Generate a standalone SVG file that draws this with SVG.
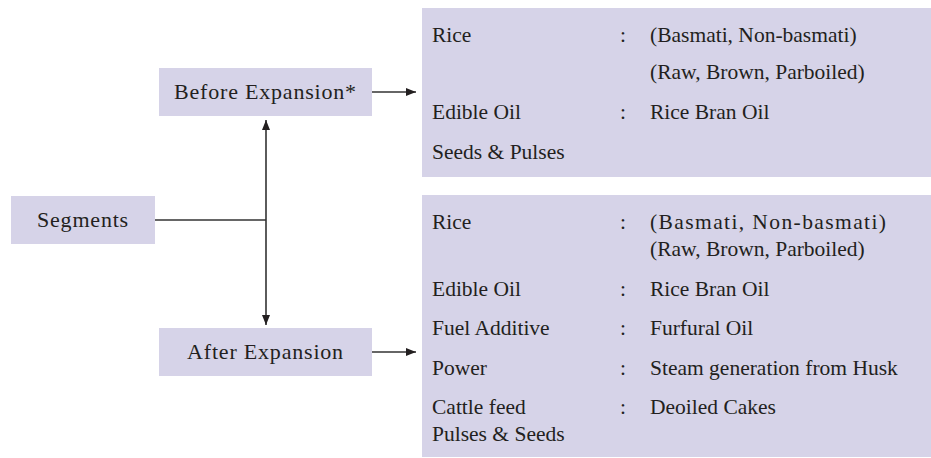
<svg xmlns="http://www.w3.org/2000/svg" width="931" height="458" viewBox="0 0 931 458" font-family="Liberation Serif, Times New Roman, serif">
<style>
.box{fill:#d6d3e8}
.ln{stroke:#333;stroke-width:1.6;fill:none}
.t{font-family:"Liberation Serif","Times New Roman",Times,serif;font-size:21.5px;fill:#231f20}
.n{font-family:"Liberation Serif","Times New Roman",Times,serif;font-size:22px;fill:#231f20;text-anchor:middle;letter-spacing:0.8px}
</style>
<defs>
<marker id="ah" viewBox="0 0 10 10" refX="10" refY="5" markerWidth="10" markerHeight="10" markerUnits="userSpaceOnUse" orient="auto">
<path d="M0,1 L10,5 L0,9 Z" fill="#231f20"/>
</marker>
</defs>
<g id="connectors">
<line class="ln" x1="155" y1="220" x2="266" y2="220"/>
<line class="ln" x1="266" y1="220" x2="266" y2="120" marker-end="url(#ah)"/>
<line class="ln" x1="266" y1="220" x2="266" y2="325" marker-end="url(#ah)"/>
<line class="ln" x1="372" y1="92" x2="416" y2="92" marker-end="url(#ah)"/>
<line class="ln" x1="372" y1="352" x2="416" y2="352" marker-end="url(#ah)"/>
</g>
<g id="segments">
<rect class="box" x="11" y="196" width="144" height="48"/>
<text class="n" x="83" y="227">Segments</text>
</g>
<g id="before">
<rect class="box" x="159" y="68" width="213" height="48"/>
<text class="n" x="265.5" y="99">Before Expansion*</text>
</g>
<g id="after">
<rect class="box" x="159" y="328" width="213" height="48"/>
<text class="n" x="265.5" y="359">After Expansion</text>
</g>
<g id="before-list">
<rect class="box" x="422" y="8" width="509" height="169"/>
<text class="t" x="432" y="42">Rice</text>
<text class="t" x="620" y="42">:</text>
<text class="t" x="650" y="42">(Basmati, Non-basmati)</text>
<text class="t" x="650" y="79">(Raw, Brown, Parboiled)</text>
<text class="t" x="432" y="119">Edible Oil</text>
<text class="t" x="620" y="119">:</text>
<text class="t" x="650" y="119">Rice Bran Oil</text>
<text class="t" x="432" y="159">Seeds &amp; Pulses</text>
</g>
<g id="after-list">
<rect class="box" x="422" y="195" width="509" height="262"/>
<text class="t" x="432" y="229">Rice</text>
<text class="t" x="620" y="229">:</text>
<text class="t" x="650" y="229" letter-spacing="1.4">(Basmati, Non-basmati)</text>
<text class="t" x="650" y="256">(Raw, Brown, Parboiled)</text>
<text class="t" x="432" y="296">Edible Oil</text>
<text class="t" x="620" y="296">:</text>
<text class="t" x="650" y="296">Rice Bran Oil</text>
<text class="t" x="432" y="335">Fuel Additive</text>
<text class="t" x="620" y="335">:</text>
<text class="t" x="650" y="335">Furfural Oil</text>
<text class="t" x="432" y="375">Power</text>
<text class="t" x="620" y="375">:</text>
<text class="t" x="650" y="375">Steam generation from Husk</text>
<text class="t" x="432" y="414">Cattle feed</text>
<text class="t" x="620" y="414">:</text>
<text class="t" x="650" y="414">Deoiled Cakes</text>
<text class="t" x="432" y="441">Pulses &amp; Seeds</text>
</g>
</svg>
